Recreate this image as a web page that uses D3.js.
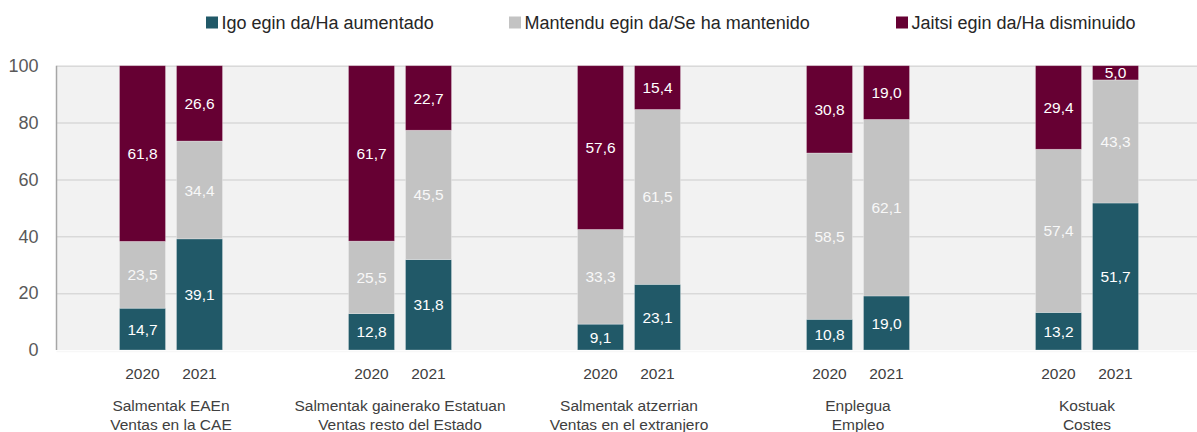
<!DOCTYPE html>
<html>
<head>
<meta charset="utf-8">
<script src="https://cdn.jsdelivr.net/npm/d3@7/dist/d3.min.js"></script>
<style>
  html, body { margin: 0; padding: 0; background: #ffffff; }
  svg { display: block; font-family: "Liberation Sans", Arial, sans-serif; }
</style>
</head>
<body>
<svg id="chart" width="1197" height="432"></svg>
<script>
// ---- data ----
const categoriesEu = ["Salmentak EAEn", "Salmentak gainerako Estatuan", "Salmentak atzerrian", "Enplegua", "Kostuak"];
const categoriesEs = ["Ventas en la CAE", "Ventas resto del Estado", "Ventas en el extranjero", "Empleo", "Costes"];
const years = ["2020", "2021"];
const seriesNames = ["Igo egin da/Ha aumentado", "Mantendu egin da/Se ha mantenido", "Jaitsi egin da/Ha disminuido"];
// values per category: [2020, 2021]
const aumentado = [[14.7, 39.1], [12.8, 31.8], [9.1, 23.1], [10.8, 19.0], [13.2, 51.7]];
const mantenido = [[23.5, 34.4], [25.5, 45.5], [33.3, 61.5], [58.5, 62.1], [57.4, 43.3]];
const disminuido = [[61.8, 26.6], [61.7, 22.7], [57.6, 15.4], [30.8, 19.0], [29.4, 5.0]];
const yTicks = [0, 20, 40, 60, 80, 100];

// ---- layout ----
const W = 1197, H = 432;
const plot = { left: 56.5, right: 1201.5, top: 65.7, bottom: 350 };
const colors = ["#215968", "#c3c3c3", "#660033"];

const svg = d3.select("#chart");

const x0 = d3.scaleBand().domain(d3.range(categoriesEu.length)).range([plot.left, plot.right]).paddingInner(0);
const x1 = d3.scaleBand().domain(years).range([0, x0.bandwidth()]).paddingInner(0.193).paddingOuter(1.105);
const y = d3.scaleLinear().domain([0, 100]).range([plot.bottom, plot.top]);

// background
svg.append("rect")
  .attr("x", plot.left).attr("y", plot.top)
  .attr("width", plot.right - plot.left).attr("height", plot.bottom - plot.top)
  .attr("fill", "#f2f2f2");

// gridlines
const grid = svg.append("g").attr("transform", `translate(${plot.left},0)`)
  .call(d3.axisLeft(y).tickValues(yTicks.filter(d => d > 0)).tickSize(-(plot.right - plot.left)).tickFormat(""));
grid.select(".domain").remove();
grid.selectAll("line").attr("stroke", "#d9d9d9").attr("stroke-width", 1.5);

// y axis labels
const yAxis = svg.append("g").attr("transform", `translate(${plot.left},0)`)
  .call(d3.axisLeft(y).tickValues(yTicks).tickSize(0).tickPadding(18).tickFormat(d3.format("d")));
yAxis.select(".domain").remove();
yAxis.selectAll("text").attr("fill", "#595959").style("font-size", "18px")
  .style("font-family", "'Liberation Sans', Arial, sans-serif");

// y axis line
svg.append("line")
  .attr("x1", plot.left).attr("x2", plot.left)
  .attr("y1", y(100)).attr("y2", y(0))
  .attr("stroke", "#a6a6a6").attr("stroke-width", 1.5);

// bottom axis line
svg.append("line")
  .attr("x1", plot.left).attr("x2", plot.right)
  .attr("y1", y(0) + 1.5).attr("y2", y(0) + 1.5)
  .attr("stroke", "#f7f7f7").attr("stroke-width", 1.5);

// build stacked rows
const rows = [];
categoriesEu.forEach((c, ci) => {
  years.forEach((yr, yi) => {
    const vals = [aumentado[ci][yi], mantenido[ci][yi], disminuido[ci][yi]];
    let base = 0;
    vals.forEach((v, si) => {
      rows.push({ ci, yr, si, v, y0: base, y1: Math.min(100, base + v) });
      base += v;
    });
  });
});

const fmt = v => v.toFixed(1).replace(".", ",");

const bars = svg.append("g");
bars.selectAll("rect").data(rows).join("rect")
  .attr("x", d => x0(d.ci) + x1(d.yr))
  .attr("width", x1.bandwidth())
  .attr("y", d => y(d.y1))
  .attr("height", d => y(d.y0) - y(d.y1))
  .attr("fill", d => colors[d.si])
  .attr("stroke", "#ffffff").attr("stroke-opacity", 0.35).attr("stroke-width", 0.75);

bars.selectAll("text").data(rows).join("text")
  .attr("x", d => x0(d.ci) + x1(d.yr) + x1.bandwidth() / 2)
  .attr("y", d => (y(d.y0) + y(d.y1)) / 2)
  .attr("dy", "0.36em")
  .attr("text-anchor", "middle")
  .attr("fill", d => d.si === 1 ? "#f8f8f8" : "#ffffff")
  .style("font-size", "15.5px")
  .text(d => fmt(d.v));

// year labels
const xl = svg.append("g");
categoriesEu.forEach((c, ci) => {
  years.forEach(yr => {
    xl.append("text")
      .attr("x", x0(ci) + x1(yr) + x1.bandwidth() / 2)
      .attr("y", 379)
      .attr("text-anchor", "middle")
      .attr("fill", "#404040")
      .style("font-size", "15.5px")
      .text(yr);
  });
  const cx = x0(ci) + x0.bandwidth() / 2;
  xl.append("text").attr("x", cx).attr("y", 411).attr("text-anchor", "middle")
    .attr("fill", "#404040").style("font-size", "15.5px").text(categoriesEu[ci]);
  xl.append("text").attr("x", cx).attr("y", 430).attr("text-anchor", "middle")
    .attr("fill", "#404040").style("font-size", "15.5px").text(categoriesEs[ci]);
});

// legend
const legendX = [206, 509, 896];
const leg = svg.append("g");
seriesNames.forEach((n, i) => {
  leg.append("rect").attr("x", legendX[i]).attr("y", 16.5).attr("width", 12).attr("height", 12).attr("fill", colors[i]);
  leg.append("text").attr("x", legendX[i] + 15.5).attr("y", 28.5)
    .attr("fill", "#262626").style("font-size", "18px").text(n);
});
</script>
</body>
</html>
